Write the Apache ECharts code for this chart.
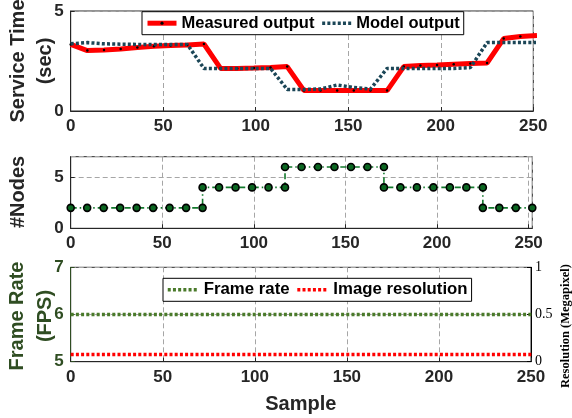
<!DOCTYPE html>
<html>
<head>
<meta charset="utf-8">
<script src="https://cdn.jsdelivr.net/npm/echarts@6/dist/echarts.min.js"></script>
<style>
html,body{margin:0;padding:0;background:#fff;}
#c{width:572px;height:418px;}
</style>
</head>
<body>
<div id="c"></div>
<script>
// ---- data ----
var samples = [0,9,18,27,36,45,54,63,72,81,90,99,108,117,126,135,144,153,162,171,180,189,198,207,216,225,234,243,252];
var measured = [3.33,3.02,3.05,3.1,3.17,3.24,3.28,3.3,3.35,2.13,2.13,2.15,2.18,2.22,1.03,1.02,1.02,1.02,1.02,1.02,2.22,2.27,2.3,2.34,2.37,2.4,3.62,3.72,3.78];
var model = [3.36,3.42,3.36,3.34,3.33,3.33,3.33,3.33,2.13,2.13,2.13,2.13,2.13,1.08,1.08,1.1,1.3,1.18,1.1,2.13,2.13,2.13,2.13,2.13,2.17,3.42,3.42,3.42,3.42];
var nodeX = [0,9,18,27,36,45,54,63,72,72,81,90,99,108,117,117,126,135,144,153,162,171,171,180,189,198,207,216,225,225,234,243,252];
var nodeY = [2,2,2,2,2,2,2,2,2,4,4,4,4,4,4,6,6,6,6,6,6,6,4,4,4,4,4,4,4,2,2,2,2];
var frameRate = [6,6,6,6,6,6,6,6,6,6,6,6,6,6,6,6,6,6,6,6,6,6,6,6,6,6,6,6,6];
var resolution = [0.0768,0.0768,0.0768,0.0768,0.0768,0.0768,0.0768,0.0768,0.0768,0.0768,0.0768,0.0768,0.0768,0.0768,0.0768,0.0768,0.0768,0.0768,0.0768,0.0768,0.0768,0.0768,0.0768,0.0768,0.0768,0.0768,0.0768,0.0768,0.0768];
var seriesNames = ['Measured output','Model output','#Nodes','Frame rate','Image resolution'];

function pairs(xs, ys){ return xs.map(function(x,i){ return [x, ys[i]]; }); }

var FONT = 'Liberation Sans, Arial, sans-serif';
var DARK = '#262626';
var GREEN_T = '#2f4d22';
var GRIDC = '#a6a6a6';
var DOT = [3,2.2];

function xAx(gi, max, name){
  return {
    type:'value', gridIndex:gi, min:0, max:max, interval:50,
    axisLine:{show:true, onZero:false, lineStyle:{color:DARK, width:1}},
    axisTick:{show:true, inside:true, length:4, lineStyle:{color:DARK}},
    axisLabel:{show:true, margin:7, fontFamily:FONT, fontWeight:'bold', fontSize:17, color:DARK, showMaxLabel: max===250},
    splitLine:{show:true, lineStyle:{color:GRIDC, type:[5,3], width:1}},
    name:name||'', nameLocation:'middle', nameGap:33,
    nameTextStyle:{fontFamily:FONT, fontWeight:'bold', fontSize:20, color:DARK}
  };
}
function yAx(gi, min, max, interval, color, pos, font, fsize, fweight, showMax){
  return {
    type:'value', gridIndex:gi, min:min, max:max, interval:interval, position:pos||'left',
    axisLine:{show:true, onZero:false, lineStyle:{color:color, width:1}},
    axisTick:{show:true, inside:true, length:4, lineStyle:{color:color}},
    axisLabel:{margin:pos==='right'?4:7, fontFamily:font||FONT, fontWeight:fweight||'bold', fontSize:fsize||17, color:color, showMaxLabel:showMax},
    splitLine:{show:pos!=='right', lineStyle:{color:GRIDC, type:[5,3], width:1}}
  };
}
function legendBox(names, items, left, top, fs, iw){
  return {
    data: names.map(function(n,i){ return Object.assign({name:n}, items[i]); }),
    left:left, top:top, orient:'horizontal',
    padding:[3,4,3,3], itemWidth:iw, itemHeight:4, itemGap:6,
    backgroundColor:'#fff', borderColor:'#000', borderWidth:1, borderRadius:0,
    textStyle:{fontFamily:FONT, fontWeight:'bold', fontSize:fs, color:'#000', lineHeight:17}
  };
}

var chart = echarts.init(document.getElementById('c'), null, {renderer:'canvas'});
chart.setOption({
  animation:false,
  backgroundColor:'#fff',
  grid:[
    {left:70.7, right:38.7, top:11, height:100, show:true, borderColor:DARK, borderWidth:1},
    {left:70.7, right:39.7, top:156.7, height:71.6, show:true, borderColor:DARK, borderWidth:1},
    {left:70.7, right:41, top:267.3, height:94.4, show:true, borderColor:DARK, borderWidth:1}
  ],
  xAxis:[ xAx(0,250), xAx(1,252), xAx(2,250,'Sample') ],
  yAxis:[
    yAx(0,0,5,5,DARK,'left',null,null,null,true),
    yAx(1,0,7,5,DARK,'left',null,null,null,false),
    yAx(2,5,7,1,GREEN_T,'left',null,null,null,true),
    yAx(2,0,1,0.5,'#000','right','Liberation Serif, Times New Roman, serif',14,'normal',true)
  ],
  legend:[
    legendBox([seriesNames[0],seriesNames[1]], [
      {itemStyle:{color:'#000', borderWidth:0}, lineStyle:{color:'#ff0000', width:5}},
      {itemStyle:{opacity:0, borderWidth:0}, lineStyle:{color:'#1b4657', width:3.5, type:DOT}}
    ], 142, 11.7, 16.5, 29),
    legendBox([seriesNames[3],seriesNames[4]], [
      {itemStyle:{opacity:0, borderWidth:0}, lineStyle:{color:'#4a7a2a', width:3.5, type:DOT}},
      {itemStyle:{opacity:0, borderWidth:0}, lineStyle:{color:'#ff0000', width:3.5, type:DOT}}
    ], 163, 278.3, 16.8, 31)
  ],
  series:[
    {name:seriesNames[0], type:'line', xAxisIndex:0, yAxisIndex:0, data:pairs(samples,measured),
     lineStyle:{color:'#ff0000', width:5}, symbol:'circle', symbolSize:2.5, showAllSymbol:true,
     itemStyle:{color:'#000'}, z:3},
    {name:seriesNames[1], type:'line', xAxisIndex:0, yAxisIndex:0, data:pairs(samples,model),
     lineStyle:{color:'#1b4657', width:3.5, type:DOT}, symbol:'none', itemStyle:{color:'#1b4657'}, z:4},
    {name:seriesNames[2], type:'line', xAxisIndex:1, yAxisIndex:1, data:pairs(nodeX,nodeY),
     lineStyle:{color:'#137a2d', width:1.6, type:[6,3,1.5,3]}, symbol:'circle', symbolSize:7, showAllSymbol:true,
     itemStyle:{color:'#0b6621', borderColor:'#000', borderWidth:1.6}},
    {name:seriesNames[3], type:'line', xAxisIndex:2, yAxisIndex:2, data:pairs(samples,frameRate),
     lineStyle:{color:'#4a7a2a', width:3.5, type:DOT}, symbol:'none', itemStyle:{color:'#4a7a2a'}},
    {name:seriesNames[4], type:'line', xAxisIndex:2, yAxisIndex:3, data:pairs(samples,resolution),
     lineStyle:{color:'#ff0000', width:3.5, type:DOT}, symbol:'none', itemStyle:{color:'#ff0000'}}
  ],
  graphic:[
    {type:'text', x:18, y:61, rotation:Math.PI/2, style:{text:'Service Time', font:'bold 20px '+FONT, fill:DARK, align:'center', verticalAlign:'middle'}},
    {type:'text', x:45, y:61, rotation:Math.PI/2, style:{text:'(sec)', font:'bold 20px '+FONT, fill:DARK, align:'center', verticalAlign:'middle'}},
    {type:'text', x:18, y:192, rotation:Math.PI/2, style:{text:'#Nodes', font:'bold 20px '+FONT, fill:DARK, align:'center', verticalAlign:'middle'}},
    {type:'text', x:17, y:316, rotation:Math.PI/2, style:{text:'Frame Rate', font:'bold 20px '+FONT, fill:GREEN_T, align:'center', verticalAlign:'middle'}},
    {type:'text', x:45, y:316, rotation:Math.PI/2, style:{text:'(FPS)', font:'bold 20px '+FONT, fill:GREEN_T, align:'center', verticalAlign:'middle'}},
    {type:'text', x:566, y:326, rotation:Math.PI/2, style:{text:'Resolution (Megapixel)', font:'bold 12.5px Liberation Serif, Times New Roman, serif', fill:'#000', align:'center', verticalAlign:'middle'}}
  ]
});
</script>
</body>
</html>
